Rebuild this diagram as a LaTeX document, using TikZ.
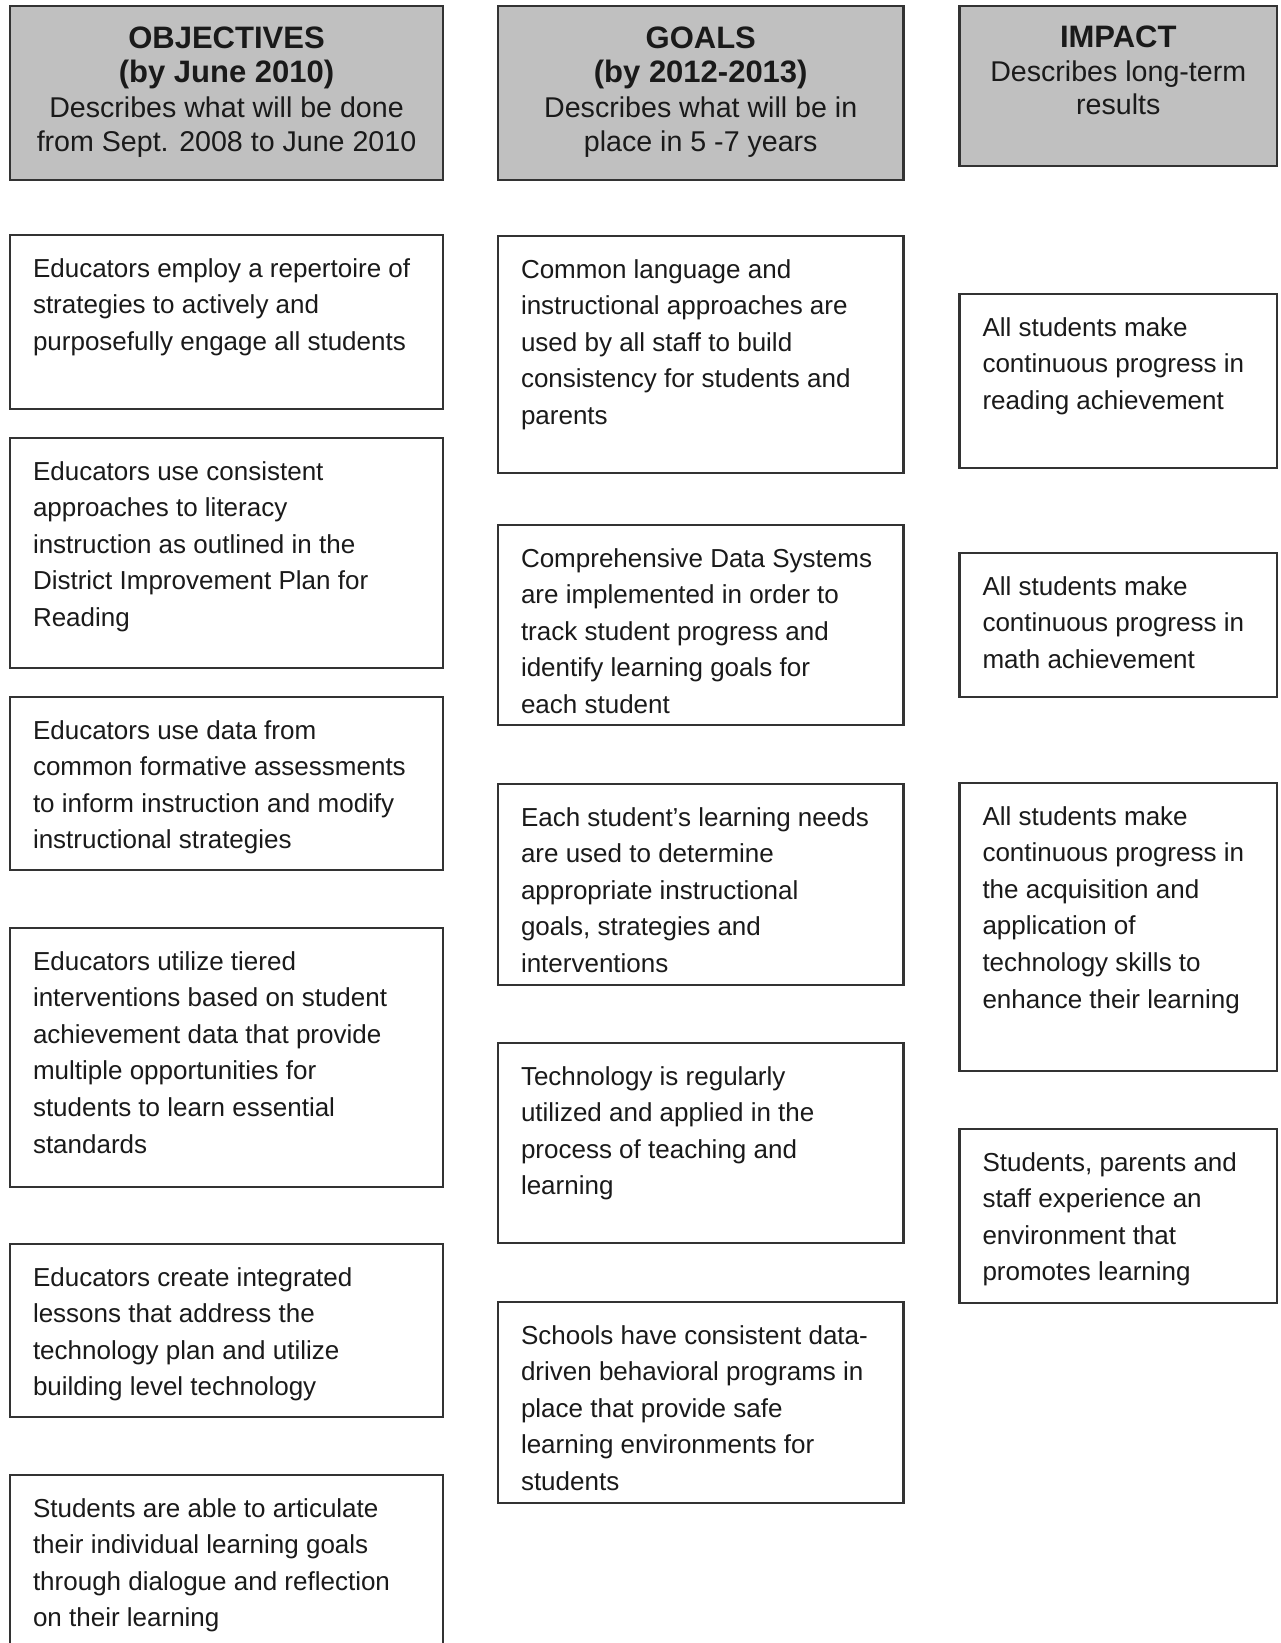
\documentclass[tikz,border=0pt]{standalone}
\usepackage{fontspec}
\setmainfont{Liberation Sans}
\definecolor{headgray}{HTML}{C0C0C0}
\definecolor{edgegray}{HTML}{333333}
\definecolor{inkgray}{HTML}{1A1A1A}
\newcommand{\bodystrut}{\rule{0pt}{22pt}}
\newcommand{\headstrut}{\rule{0pt}{25pt}}
\newcommand{\hb}[1]{{\fontsize{31}{35}\selectfont\bfseries #1}}
\tikzset{
  box/.style={draw=edgegray, line width=2.4pt, fill=white, rectangle, inner sep=0pt, outer sep=0pt, anchor=north west},
  headbox/.style={box, fill=headgray},
  body/.style={anchor=north west, inner sep=0pt, outer sep=0pt, align=left, text=inkgray, font=\fontsize{26}{36.6}\selectfont},
  headtxt/.style={anchor=north, inner sep=0pt, outer sep=0pt, align=center, text=inkgray, font=\fontsize{28.6}{34.5}\selectfont},
}
\begin{document}
\begin{tikzpicture}[x=1pt, y=-1pt]
\useasboundingbox (0,0) rectangle (1280,1643);
\fill[white] (0,0) rectangle (1280,1643);
\clip (0,0) rectangle (1280,1643);

% ---------- headers ----------
\node[headbox, minimum width=433pt, minimum height=174pt] (h1) at (10,6) {};
\node[headtxt] (h1t) at ([yshift=-17pt]h1.north) {\headstrut\hb{OBJECTIVES}\\ \hb{(by June 2010)}\\ Describes what will be done\\ from Sept. 2008 to June 2010};

\node[headbox, minimum width=405.5pt, minimum height=174pt] (h2) at (498,6) {};
\node[headtxt] (h2t) at ([yshift=-17pt]h2.north) {\headstrut\hb{GOALS}\\ \hb{(by 2012-2013)}\\ Describes what will be in\\ place in 5 -7 years};

\node[headbox, minimum width=317.5pt, minimum height=160pt] (h3) at (959.5,6) {};
\node[headtxt, font=\fontsize{28.6}{33.5}\selectfont] (h3t) at ([yshift=-17pt]h3.north) {\headstrut\hb{IMPACT}\\ Describes long-term\\ results};

% ---------- objectives ----------
\node[box, minimum width=433pt, minimum height=174pt] (o1) at (10,235) {};
\node[body] (o1t) at ([xshift=23pt,yshift=-20pt]o1.north west) {\bodystrut Educators employ a repertoire of\\ strategies to actively and\\ purposefully engage all students};

\node[box, minimum width=433pt, minimum height=230pt] (o2) at (10,438) {};
\node[body] (o2t) at ([xshift=23pt,yshift=-20pt]o2.north west) {\bodystrut Educators use consistent\\ approaches to literacy\\ instruction as outlined in the\\ District Improvement Plan for\\ Reading};

\node[box, minimum width=433pt, minimum height=173pt] (o3) at (10,697) {};
\node[body] (o3t) at ([xshift=23pt,yshift=-20pt]o3.north west) {\bodystrut Educators use data from\\ common formative assessments\\ to inform instruction and modify\\ instructional strategies};

\node[box, minimum width=433pt, minimum height=259pt] (o4) at (10,928) {};
\node[body] (o4t) at ([xshift=23pt,yshift=-20pt]o4.north west) {\bodystrut Educators utilize tiered\\ interventions based on student\\ achievement data that provide\\ multiple opportunities for\\ students to learn essential\\ standards};

\node[box, minimum width=433pt, minimum height=173pt] (o5) at (10,1244) {};
\node[body] (o5t) at ([xshift=23pt,yshift=-20pt]o5.north west) {\bodystrut Educators create integrated\\ lessons that address the\\ technology plan and utilize\\ building level technology};

\node[box, minimum width=433pt, minimum height=250pt] (o6) at (10,1475) {};
\node[body] (o6t) at ([xshift=23pt,yshift=-20pt]o6.north west) {\bodystrut Students are able to articulate\\ their individual learning goals\\ through dialogue and reflection\\ on their learning};

% ---------- goals ----------
\node[box, minimum width=405.5pt, minimum height=237pt] (g1) at (498,236) {};
\node[body] (g1t) at ([xshift=23pt,yshift=-20pt]g1.north west) {\bodystrut Common language and\\ instructional approaches are\\ used by all staff to build\\ consistency for students and\\ parents};

\node[box, minimum width=405.5pt, minimum height=200pt] (g2) at (498,525) {};
\node[body] (g2t) at ([xshift=23pt,yshift=-20pt]g2.north west) {\bodystrut Comprehensive Data Systems\\ are implemented in order to\\ track student progress and\\ identify learning goals for\\ each student};

\node[box, minimum width=405.5pt, minimum height=201pt] (g3) at (498,784) {};
\node[body] (g3t) at ([xshift=23pt,yshift=-20pt]g3.north west) {\bodystrut Each student’s learning needs\\ are used to determine\\ appropriate instructional\\ goals, strategies and\\ interventions};

\node[box, minimum width=405.5pt, minimum height=200pt] (g4) at (498,1043) {};
\node[body] (g4t) at ([xshift=23pt,yshift=-20pt]g4.north west) {\bodystrut Technology is regularly\\ utilized and applied in the\\ process of teaching and\\ learning};

\node[box, minimum width=405.5pt, minimum height=201pt] (g5) at (498,1302) {};
\node[body] (g5t) at ([xshift=23pt,yshift=-20pt]g5.north west) {\bodystrut Schools have consistent data-\\ driven behavioral programs in\\ place that provide safe\\ learning environments for\\ students};

% ---------- impact ----------
\node[box, minimum width=317.5pt, minimum height=174pt] (i1) at (959.5,294) {};
\node[body] (i1t) at ([xshift=23pt,yshift=-20pt]i1.north west) {\bodystrut All students make\\ continuous progress in\\ reading achievement};

\node[box, minimum width=317.5pt, minimum height=144pt] (i2) at (959.5,553) {};
\node[body] (i2t) at ([xshift=23pt,yshift=-20pt]i2.north west) {\bodystrut All students make\\ continuous progress in\\ math achievement};

\node[box, minimum width=317.5pt, minimum height=288pt] (i3) at (959.5,783) {};
\node[body] (i3t) at ([xshift=23pt,yshift=-20pt]i3.north west) {\bodystrut All students make\\ continuous progress in\\ the acquisition and\\ application of\\ technology skills to\\ enhance their learning};

\node[box, minimum width=317.5pt, minimum height=174pt] (i4) at (959.5,1129) {};
\node[body] (i4t) at ([xshift=23pt,yshift=-20pt]i4.north west) {\bodystrut Students, parents and\\ staff experience an\\ environment that\\ promotes learning};
\end{tikzpicture}
\end{document}
